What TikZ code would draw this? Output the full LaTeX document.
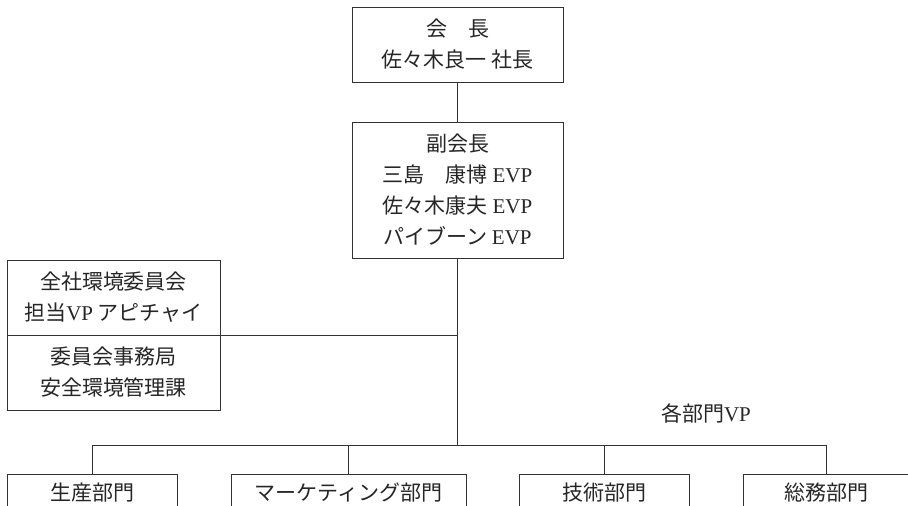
\documentclass[tikz,border=0pt]{standalone}
\usepackage{fontspec}
\setmainfont{Liberation Serif}
\newfontfamily\cjk{Noto Sans CJK JP}
\newcommand\lat[1]{{\rmfamily #1}}
\tikzset{
  box/.style={draw=black!80, line width=0.8pt, rectangle, inner sep=0pt, align=center,
    text=black!85, font=\fontsize{21}{31}\cjk},
  conn/.style={draw=black!80, line width=0.8pt},
  lbl/.style={inner sep=0pt, text=black!85, font=\fontsize{21}{31}\cjk}
}
\begin{document}
\begin{tikzpicture}[x=1pt,y=-1pt]
\useasboundingbox (0,0) rectangle (908,506);
\clip (0,0) rectangle (908,506);
\fill[white] (0,0) rectangle (908,506);
% top
\node[box, minimum width=211pt, minimum height=75pt] (pres) at (457.5,44.5) {会　長\\佐々木良一 社長};
\node[box, minimum width=211pt, minimum height=136pt] (vp) at (457.5,190) {副会長\\三島　康博 \lat{EVP}\\佐々木康夫 \lat{EVP}\\パイブーン \lat{EVP}};
% left
\node[box, minimum width=213pt, minimum height=75pt] (env) at (113.5,297.5) {全社環境委員会\\担当\lat{VP} アピチャイ};
\node[box, minimum width=213pt, minimum height=75pt] (sec) at (113.5,372.5) {委員会事務局\\安全環境管理課};
% bottom
\node[box, minimum width=170pt, minimum height=38pt] (b1) at (92,493) {生産部門};
\node[box, minimum width=235pt, minimum height=38pt] (b2) at (348.5,493) {マーケティング部門};
\node[box, minimum width=170pt, minimum height=38pt] (b3) at (604,493) {技術部門};
\node[box, minimum width=166pt, minimum height=38pt] (b4) at (826,493) {総務部門};
\node[lbl] (vplabel) at (706,413) {各部門\lat{VP}};
\coordinate (j) at (457.5,445);
% connectors
\draw[conn] (pres.south) -- (vp.north);
\draw[conn] (vp.south) -- (j);
\draw[conn] (env.south east) -- (env.south east -| vp.south);
\draw[conn] (b1.north) |- (j);
\draw[conn] (b4.north) |- (j);
\draw[conn] (b2.north) -- (b2.north |- j);
\draw[conn] (b3.north) -- (b3.north |- j);
\end{tikzpicture}
\end{document}
